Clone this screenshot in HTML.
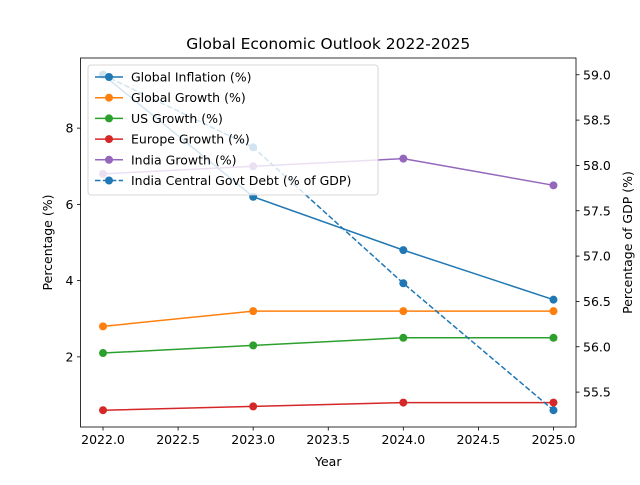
<!DOCTYPE html>
<html><head><meta charset="utf-8"><style>
body{margin:0;background:#fff}
svg text{font-family:"DejaVu Sans","Liberation Sans",sans-serif;fill:#000}
</style></head><body>
<svg id="chart" width="640" height="480" viewBox="0 0 640 480"></svg>
<script>
const years=[2022,2023,2024,2025];
const inflation=[9.4,6.2,4.8,3.5];
const globalGrowth=[2.8,3.2,3.2,3.2];
const usGrowth=[2.1,2.3,2.5,2.5];
const europeGrowth=[0.6,0.7,0.8,0.8];
const indiaGrowth=[6.8,7.0,7.2,6.5];
const indiaDebt=[59.0,58.2,56.7,55.3];
const xTicks=[2022.0,2022.5,2023.0,2023.5,2024.0,2024.5,2025.0];
const yLeftTicks=[2,4,6,8];
const yRightTicks=[55.5,56.0,56.5,57.0,57.5,58.0,58.5,59.0];
const seriesNames=["Global Inflation (%)","Global Growth (%)","US Growth (%)","Europe Growth (%)","India Growth (%)","India Central Govt Debt (% of GDP)"];

const NS="http://www.w3.org/2000/svg";
const svg=document.getElementById('chart');
const L=80.5,R=576,T=58,B=427;
function ext(a){const mn=Math.min(...a),mx=Math.max(...a),d=mx-mn;return [mn-0.05*d,mx+0.05*d];}
const xr=ext(years);
const yl=ext([].concat(inflation,globalGrowth,usGrowth,europeGrowth,indiaGrowth));
const yr=ext(indiaDebt);
const x=v=>L+(v-xr[0])/(xr[1]-xr[0])*(R-L);
const yL=v=>B-(v-yl[0])/(yl[1]-yl[0])*(B-T);
const yR=v=>B-(v-yr[0])/(yr[1]-yr[0])*(B-T);
function el(tag,attrs,parent){const e=document.createElementNS(NS,tag);for(const k in attrs)e.setAttribute(k,attrs[k]);(parent||svg).appendChild(e);return e;}
function txt(s,attrs){const t=el('text',attrs);t.textContent=s;return t;}

const series=[
 {v:inflation,c:'#1f77b4',ax:yL,dash:null,name:'inflation'},
 {v:globalGrowth,c:'#ff7f0e',ax:yL,dash:null,name:'global-growth'},
 {v:usGrowth,c:'#2ca02c',ax:yL,dash:null,name:'us-growth'},
 {v:europeGrowth,c:'#d62728',ax:yL,dash:null,name:'europe-growth'},
 {v:indiaGrowth,c:'#9467bd',ax:yL,dash:null,name:'india-growth'},
 {v:indiaDebt,c:'#1f77b4',ax:yR,dash:'5.5,2.4',name:'india-debt'}
];
series.forEach(s=>{
  const g=el('g',{});
  
  
  const pts=years.map((yv,i)=>x(yv)+','+s.ax(s.v[i])).join(' ');
  const pl=el('polyline',{points:pts,fill:'none',stroke:s.c,'stroke-width':1.5},g);
  if(s.dash)pl.setAttribute('stroke-dasharray',s.dash);
  
  
  years.forEach((yv,i)=>{
    const c=el('circle',{cx:x(yv),cy:s.ax(s.v[i]),r:4,fill:s.c},g);
    
    
  });
});

const fr=el('rect',{x:L,y:T,width:R-L,height:B-T,fill:'none',stroke:'#000','stroke-width':0.8});



xTicks.forEach(t=>{
  el('line',{x1:x(t),x2:x(t),y1:B,y2:B+3.5,stroke:'#000','stroke-width':0.8});
  const e=txt(t.toFixed(1),{x:x(t),y:B+17,'text-anchor':'middle','font-size':'12.5px'});
  
  
});
yLeftTicks.forEach(t=>{
  el('line',{x1:L-3.5,x2:L,y1:yL(t),y2:yL(t),stroke:'#000','stroke-width':0.8});
  const e=txt(String(t),{x:L-7,y:yL(t)+4.5,'text-anchor':'end','font-size':'12.5px'});
  
  
});
yRightTicks.forEach(t=>{
  el('line',{x1:R,x2:R+3.5,y1:yR(t),y2:yR(t),stroke:'#000','stroke-width':0.8});
  const e=txt(t.toFixed(1),{x:R+7,y:yR(t)+4.5,'text-anchor':'start','font-size':'12.5px'});
  
  
});

let e;
e=txt('Global Economic Outlook 2022-2025',{x:(L+R)/2,y:49,'text-anchor':'middle','font-size':'15.5px'});

e=txt('Year',{x:(L+R)/2,y:466,'text-anchor':'middle','font-size':'12.5px'});

e=txt('Percentage (%)',{x:0,y:0,'text-anchor':'middle','font-size':'12.5px',transform:'translate(52,'+((T+B)/2)+') rotate(-90)'});

e=txt('Percentage of GDP (%)',{x:0,y:0,'text-anchor':'middle','font-size':'12.5px',transform:'translate(632,'+((T+B)/2)+') rotate(-90)'});


const lg=el('g',{});


el('rect',{x:88,y:65,width:290,height:130,rx:3,fill:'#fff','fill-opacity':0.8,stroke:'#ccc','stroke-width':0.8},lg);
series.forEach((s,i)=>{
  const cy=77+i*20.7;
  const ge=el('g',{},lg);
  
  
  const ln=el('line',{x1:95,x2:123,y1:cy,y2:cy,stroke:s.c,'stroke-width':1.5},ge);
  if(s.dash)ln.setAttribute('stroke-dasharray',s.dash);
  el('circle',{cx:109,cy:cy,r:4,fill:s.c},ge);
  const t=el('text',{x:131,y:cy+4.5,'font-size':'12.5px'},ge);
  t.textContent=seriesNames[i];
});
</script>
</body></html>
